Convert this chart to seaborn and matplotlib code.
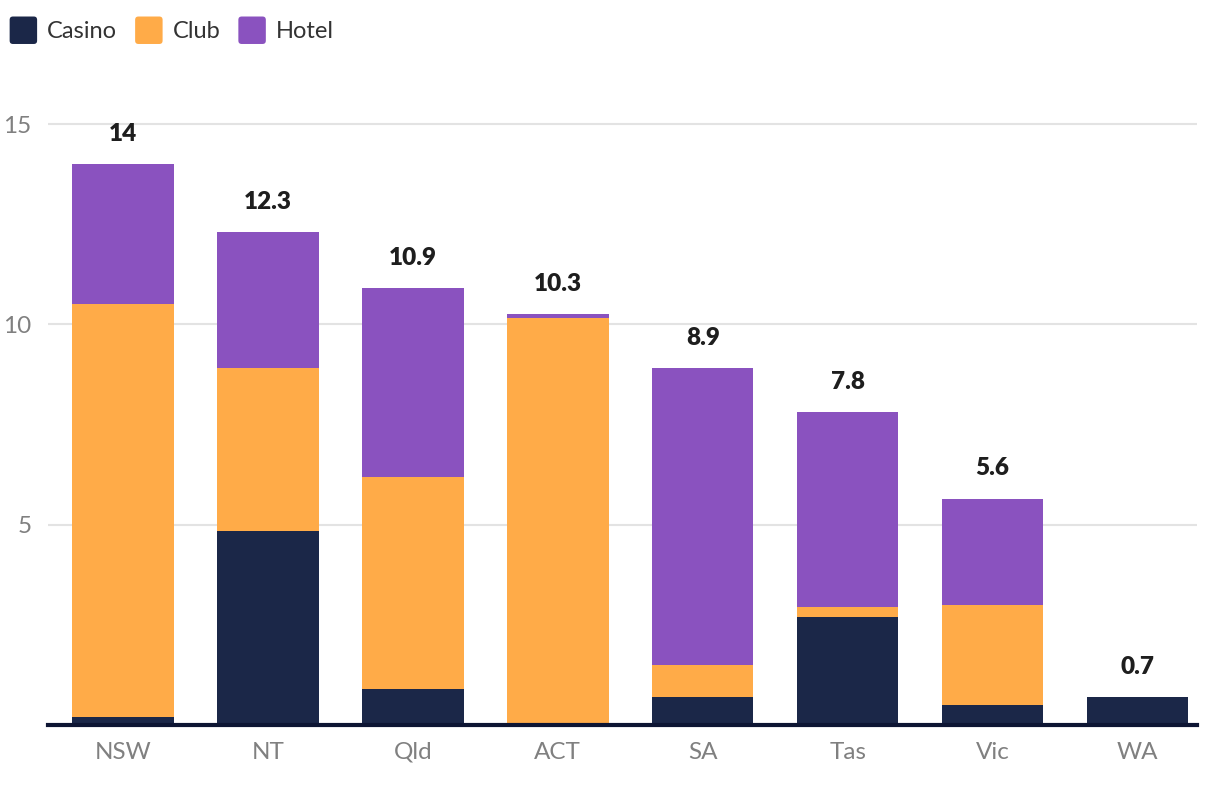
import matplotlib
matplotlib.use("Agg")
import matplotlib.pyplot as plt
import seaborn as sns
import pandas as pd
import numpy as np
from matplotlib.patches import FancyBboxPatch
from matplotlib.legend_handler import HandlerPatch

states = ["NSW", "NT", "Qld", "ACT", "SA", "Tas", "Vic", "WA"]
casino = [0.2, 4.85, 0.9, 0.0, 0.7, 2.7, 0.5, 0.7]
club = [10.3, 4.05, 5.3, 10.15, 0.8, 0.25, 2.5, 0.0]
hotel = [3.5, 3.4, 4.7, 0.1, 7.4, 4.85, 2.65, 0.0]
total_labels = ["14", "12.3", "10.9", "10.3", "8.9", "7.8", "5.6", "0.7"]
series = ["Casino", "Club", "Hotel"]
colors = {"Casino": "#1B2748", "Club": "#FFAB48", "Hotel": "#8A52BF"}

df = pd.DataFrame({"state": states, "Casino": casino, "Club": club, "Hotel": hotel})
df["c1"] = df["Casino"]
df["c2"] = df["Casino"] + df["Club"]
df["c3"] = df["c2"] + df["Hotel"]

sns.set_theme(style="white")
plt.rcParams["font.family"] = ["Lato", "DejaVu Sans"]

fig = plt.figure(figsize=(12.2, 7.88), dpi=100)
ax = fig.add_axes([48 / 1220, 63 / 788, (1197 - 48) / 1220, (725 - 100) / 788])

for col, name in [("c3", "Hotel"), ("c2", "Club"), ("c1", "Casino")]:
    sns.barplot(data=df, x="state", y=col, color=colors[name], width=0.7,
                saturation=1, ax=ax, zorder=3, linewidth=0)

ax.set_ylim(0, 15.6)
ax.set_xlim(-0.517, 7.41)
ax.set_yticks([5, 10, 15])
ax.set_yticklabels(["5", "10", "15"])
ax.yaxis.grid(True, color="#e3e3e3", linewidth=1.5, zorder=0)
ax.set_axisbelow(True)
ax.set_xlabel("")
ax.set_ylabel("")
for s in ["top", "right", "left"]:
    ax.spines[s].set_visible(False)
ax.spines["bottom"].set_color("#0D1533")
ax.spines["bottom"].set_linewidth(3)
ax.spines["bottom"].set_zorder(5)
ax.tick_params(axis="y", length=0, pad=12, labelsize=17.5, labelcolor="#808080")
ax.tick_params(axis="x", length=0, pad=12, labelsize=17.5, labelcolor="#808080")

for i, lab in enumerate(total_labels):
    ax.annotate(lab, (i, df["c3"][i]), xytext=(0, 14), textcoords="offset points",
                ha="center", va="bottom", fontsize=17.5, fontweight="heavy", color="#1e1e1e")


class RoundHandler(HandlerPatch):
    def create_artists(self, legend, orig_handle, xdescent, ydescent, width, height, fontsize, trans):
        s = min(width, height) * 1.3
        p = FancyBboxPatch((-xdescent + (width - s) / 2, -ydescent + (height - s) / 2), s, s,
                           boxstyle="round,pad=0,rounding_size=%f" % (s * 0.12),
                           facecolor=orig_handle.get_facecolor(), edgecolor="none", transform=trans)
        return [p]


handles = [plt.Rectangle((0, 0), 1, 1, facecolor=colors[n]) for n in series]
fig.legend(handles, series, loc="upper left", bbox_to_anchor=(-0.006, 0.999), ncol=3, frameon=False,
           fontsize=17, handlelength=1.0, handleheight=1.0, handletextpad=0.5, columnspacing=0.85,
           labelcolor="#333333", borderaxespad=0.4,
           handler_map={plt.Rectangle: RoundHandler()})

fig.savefig("out.png", dpi=100)
